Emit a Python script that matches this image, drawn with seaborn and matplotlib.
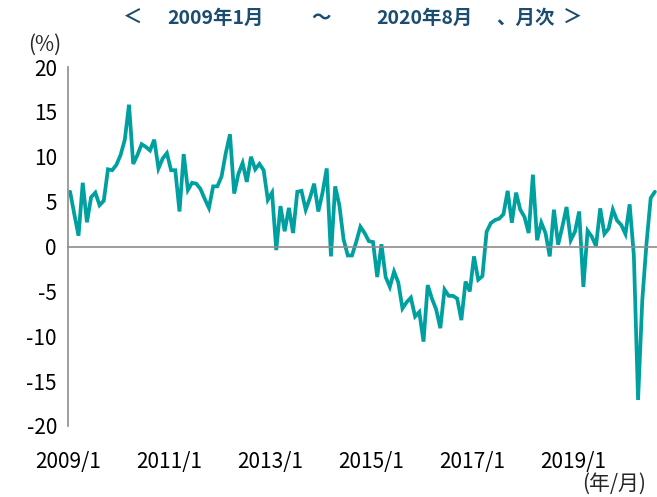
import matplotlib
matplotlib.use("Agg")
import matplotlib.pyplot as plt
import numpy as np
import pandas as pd
import seaborn as sns

# Monthly values, 2009/1 .. 2020/8 (%)
values = [
    6.1, 3.6, 1.2, 7.1, 2.7, 5.5, 6.0, 4.6, 5.1, 8.6, 8.5, 9.1,      # 2009
    10.2, 11.9, 15.8, 9.2, 10.2, 11.4, 11.1, 10.7, 11.9, 8.7, 9.8, 10.4,  # 2010
    8.5, 8.5, 3.9, 10.3, 6.3, 7.1, 7.0, 6.4, 5.3, 4.3, 6.7, 6.7,     # 2011
    7.8, 10.4, 12.5, 5.9, 8.1, 9.3, 7.2, 10.0, 8.6, 9.2, 8.5, 5.2,   # 2012
    6.0, -0.4, 4.5, 1.7, 4.3, 1.5, 6.1, 6.2, 4.1, 5.4, 7.0, 3.9,     # 2013
    6.0, 8.7, -1.1, 6.7, 4.6, 0.8, -1.0, -1.0, 0.5, 2.2, 1.5, 0.6,   # 2014
    0.5, -3.4, 0.25, -3.4, -4.5, -2.8, -4.0, -6.9, -6.2, -5.7, -7.8, -7.3,  # 2015
    -10.6, -4.3, -5.8, -7.0, -9.1, -4.8, -5.5, -5.5, -5.8, -8.2, -3.9, -5.0,  # 2016
    -1.1, -3.7, -3.3, 1.65, 2.6, 2.95, 3.1, 3.6, 6.2, 2.65, 6.0, 4.1,  # 2017
    3.3, 1.5, 8.0, 0.7, 2.65, 1.5, -1.1, 4.1, 0.2, 2.2, 4.4, 0.7,    # 2018
    1.65, 3.9, -4.5, 1.75, 1.1, 0.05, 4.25, 1.4, 2.0, 4.1, 2.9, 2.4,  # 2019
    1.4, 4.7, -1.0, -17.1, -6.0, 0.3, 5.4, 6.1,                      # 2020/1-8
]
months = list(range(len(values)))
x_tick_pos = [-0.5, 23.5, 47.5, 71.5, 95.5, 119.5]
x_tick_labels = ["2009/1", "2011/1", "2013/1", "2015/1", "2017/1", "2019/1"]
y_ticks = [20, 15, 10, 5, 0, -5, -10, -15, -20]

sns.set_style("white")
plt.rcParams["font.family"] = ["Noto Sans CJK JP", "DejaVu Sans"]
plt.rcParams["axes.unicode_minus"] = False

W, H = 657, 497
fig = plt.figure(figsize=(W / 100, H / 100), dpi=100)
ax = fig.add_axes([68 / W, 71 / H, 589 / W, 359 / H])

df = pd.DataFrame({"month": months, "value": values})
sns.lineplot(data=df, x="month", y="value", ax=ax, color="#00A0A0",
             linewidth=2.7, solid_joinstyle="miter")

grey = "#8c8c8c"
ax.set_xlim(-0.5, 139.5)
ax.set_ylim(-20, 20)
for s in ["top", "right"]:
    ax.spines[s].set_visible(False)
ax.spines["left"].set_color(grey)
ax.spines["left"].set_linewidth(1.2)
ax.spines["bottom"].set_position(("data", 0))
ax.spines["bottom"].set_color(grey)
ax.spines["bottom"].set_linewidth(1.2)

ax.set_xticks(x_tick_pos)
ax.tick_params(axis="x", direction="out", length=5, width=1.2, color=grey,
               labelbottom=False)
ax.set_yticks(y_ticks)
ax.set_yticklabels([str(v) for v in y_ticks])
ax.tick_params(axis="y", direction="out", length=5, width=1.2, color=grey,
               labelsize=15, pad=3, labelcolor="black")
ax.set_xlabel("")
ax.set_ylabel("")

sec = ax.secondary_xaxis("bottom")
sec.set_xticks(x_tick_pos, labels=x_tick_labels)
sec.tick_params(length=0, labelsize=15, pad=18, labelcolor="black")
sec.spines["bottom"].set_visible(False)

# Title pieces
tc = "#1a4d70"
ty = 1 - 18 / H
for txt, xc in [("＜", 132), ("2009年1月", 216), ("～", 321),
                ("2020年8月", 424), ("、月次", 525), ("＞", 573)]:
    fig.text(xc / W, ty, txt, ha="center", va="center", fontsize=14,
             fontweight="bold", color=tc)

fig.text(45 / W, 1 - 45 / H, "(%)", ha="center", va="center", fontsize=15)
fig.text(614 / W, 1 - 484 / H, "(年/月)", ha="center", va="center", fontsize=15)

fig.savefig("out.png", dpi=100)
